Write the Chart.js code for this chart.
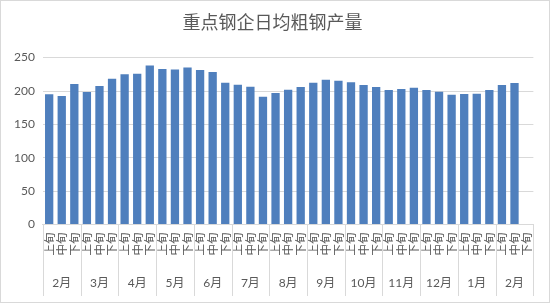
<!DOCTYPE html>
<html>
<head>
<meta charset="utf-8">
<script src="https://cdn.jsdelivr.net/npm/chart.js@4"></script>
<style>
    body { margin: 0; background: #fff; }
    #wrap { position: relative; width: 548px; height: 301px; border: 1px solid #d9d9d9; }
</style>
</head>
<body>
<div id="wrap"><canvas id="steelChart"></canvas></div>
<script>
const chartTitle = '重点钢企日均粗钢产量';
const months = ['2月', '3月', '4月', '5月', '6月', '7月', '8月', '9月', '10月', '11月', '12月', '1月', '2月'];
const tenDays = ['上旬', '中旬', '下旬'];
// daily crude steel output per ten-day period (last slot still empty)
const output = [
    195, 192.5, 210.5,
    198.5, 207.5, 218.5,
    225, 226, 238,
    233, 232, 235,
    231.5, 228.5, 212.5,
    209.5, 206.5, 191.5,
    197, 202, 206,
    212.5, 217, 215.5,
    213, 209, 206,
    201.5, 203, 205,
    201.5, 199, 194.5,
    195.5, 196, 201.5,
    209, 212, null
];
const yTicks = [0, 50, 100, 150, 200, 250];

const labels = months.flatMap(() => tenDays);
const gray = '#595959';
const lineColor = '#d9d9d9';
const baseFont = 'Lato, "Noto Sans CJK SC", sans-serif';

// vertical separators between month groups, spanning both label rows
const monthDividers = {
    id: 'monthDividers',
    afterDraw(chart) {
        const x2 = chart.scales.x2;
        const step = x2.width / months.length;
        const c = chart.ctx;
        c.save();
        c.strokeStyle = lineColor;
        c.lineWidth = 1;
        c.beginPath();
        for (let i = 0; i <= months.length; i++) {
            const px = Math.round(x2.left + i * step) + 0.5;
            c.moveTo(px, chart.chartArea.bottom);
            c.lineTo(px, Math.min(x2.bottom, 295));
        }
        c.stroke();
        c.restore();
    }
};

const ctx = document.getElementById('steelChart').getContext('2d');
new Chart(ctx, {
    type: 'bar',
    data: {
        labels: labels,
        datasets: [{
            data: output,
            backgroundColor: '#4f7fbd',
            barPercentage: 0.66,
            categoryPercentage: 1
        }]
    },
    options: {
        responsive: true,
        maintainAspectRatio: false,
        animation: false,
        layout: { padding: { left: 5, right: 10, bottom: 0 } },
        plugins: {
            legend: { display: false },
            tooltip: { enabled: false },
            title: {
                display: true,
                text: chartTitle,
                color: gray,
                font: { family: '"Noto Sans CJK SC", sans-serif', size: 18, weight: 'normal' },
                padding: { top: 10, bottom: 25 }
            }
        },
        scales: {
            y: {
                min: 0,
                max: 250,
                afterBuildTicks: axis => { axis.ticks = yTicks.map(v => ({ value: v })); },
                grid: { color: lineColor, drawTicks: false },
                border: { display: false },
                ticks: { color: gray, padding: 8, font: { family: baseFont, size: 12 } }
            },
            x: {
                grid: { display: false, drawTicks: false },
                border: { display: true, color: lineColor },
                ticks: {
                    autoSkip: false,
                    minRotation: 90,
                    maxRotation: 90,
                    padding: 8,
                    color: gray,
                    font: { family: '"Noto Sans CJK SC", sans-serif', size: 11.5 }
                }
            },
            x2: {
                type: 'category',
                position: 'bottom',
                labels: months,
                offset: true,
                grid: { display: false, drawTicks: false },
                border: { display: false },
                ticks: {
                    autoSkip: false,
                    maxRotation: 0,
                    padding: 12,
                    color: gray,
                    font: { family: baseFont, size: 12 }
                }
            }
        }
    },
    plugins: [monthDividers]
});
</script>
</body>
</html>
